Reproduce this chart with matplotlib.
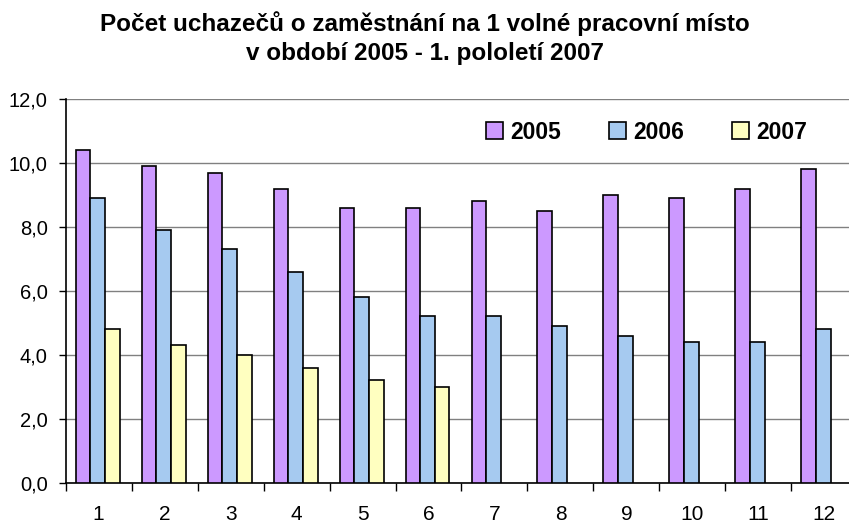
import numpy as np
import matplotlib
matplotlib.use("Agg")
import matplotlib.pyplot as plt

# data
months = ["1", "2", "3", "4", "5", "6", "7", "8", "9", "10", "11", "12"]
y2005 = [10.4, 9.9, 9.7, 9.2, 8.6, 8.6, 8.8, 8.5, 9.0, 8.9, 9.2, 9.8]
y2006 = [8.9, 7.9, 7.3, 6.6, 5.8, 5.2, 5.2, 4.9, 4.6, 4.4, 4.4, 4.8]
y2007 = [4.8, 4.3, 4.0, 3.6, 3.2, 3.0]
series_names = ["2005", "2006", "2007"]
colors = ["#CC99FF", "#A6CAF0", "#FFFFC0"]
yticks = [0, 2, 4, 6, 8, 10, 12]

plt.rcParams["font.family"] = ["Liberation Sans", "DejaVu Sans"]

W, H = 849, 523
fig = plt.figure(figsize=(W / 100, H / 100), dpi=100)
ax = fig.add_axes([65.7 / W, 40.3 / H, 791.6 / W, 383.7 / H])

x = np.arange(len(months))
w = 0.222
shift = -0.015
for i, (vals, name, c) in enumerate(zip([y2005, y2006, y2007], series_names, colors)):
    xs = x[:len(vals)] + (i - 1) * w + shift
    ax.bar(xs, vals, width=w, color=c, edgecolor="black", linewidth=1.2,
           label=name, zorder=3)

ax.set_xlim(-0.5, len(months) - 0.5)
ax.set_ylim(0, 12)
ax.set_yticks(yticks)
ax.set_yticklabels([f"{v:.1f}".replace(".", ",") for v in yticks], fontsize=14.5)
ax.yaxis.grid(True, color="#808080", linewidth=1.0, zorder=0)
ax.tick_params(axis="y", length=5, width=1, direction="out", pad=8)

ax.set_xticks(x)
ax.set_xticklabels(months, fontsize=15)
ax.set_xticks(np.arange(-0.5, len(months)), minor=True)
ax.tick_params(axis="x", which="major", length=0, pad=16)
ax.tick_params(axis="x", which="minor", length=6, width=1, direction="out")

for s in ["top", "right"]:
    ax.spines[s].set_visible(False)
ax.spines["left"].set_linewidth(1.2)
ax.spines["bottom"].set_linewidth(1.2)

leg = ax.legend(loc="upper left", bbox_to_anchor=(0.505, 0.997), ncol=3,
                frameon=False, handlelength=0.75, handleheight=0.75,
                handletextpad=0.3, columnspacing=2.1,
                prop={"weight": "bold", "size": 16.5})

fig.text(0.5, 1 - 38 / H,
         "Počet uchazečů o zaměstnání na 1 volné pracovní místo\nv období 2005 - 1. pololetí 2007",
         ha="center", va="center", fontsize=17.5, fontweight="bold", linespacing=1.35)

fig.savefig("out.png", dpi=100)
